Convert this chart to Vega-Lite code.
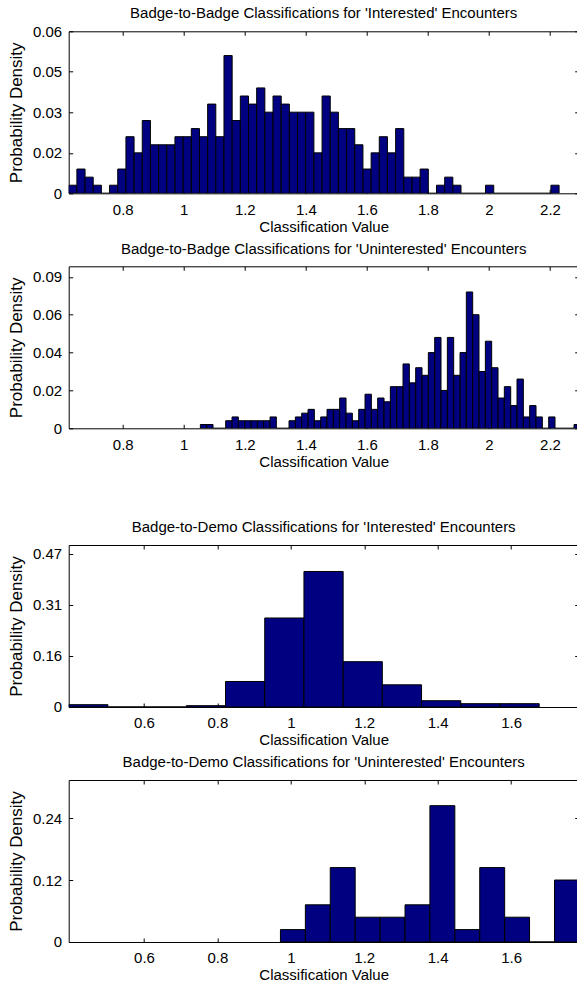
{
  "$schema": "https://vega.github.io/schema/vega-lite/v6.json",
  "background": "white",
  "autosize": {"type": "pad"},
  "padding": {"left": 6.7, "top": 5.3, "right": 0, "bottom": 0},
  "config": {
    "font": "Liberation Sans",
    "view": {"stroke": "black", "strokeWidth": 1},
    "title": {"fontSize": 15, "fontWeight": "normal", "color": "black", "offset": 9, "baseline": "alphabetic", "frame": "group", "anchor": "middle", "font": "Liberation Sans"},
    "axis": {"domain": false, "grid": false, "tickSize": -4, "tickColor": "black", "tickWidth": 1, "labelFontSize": 15, "labelColor": "black", "titleFontSize": 15, "titleFontWeight": "normal", "titleColor": "black", "labelFont": "Liberation Sans", "titleFont": "Liberation Sans", "labelOverlap": false, "labelFlush": false},
    "axisBottom": {"labelPadding": 13, "titlePadding": 2},
    "axisLeft": {"labelPadding": 11, "titlePadding": 7, "titleFontSize": 17},
    "axisTop": {"labels": false, "title": null},
    "axisRight": {"labels": false, "title": null}
  },
  "spacing": 49.7,
  "vconcat": [
    {
      "bounds": "flush",
      "spacing": 73,
      "vconcat": [
        {
          "width": 510, "height": 162,
          "title": {"text": "Badge-to-Badge Classifications for 'Interested' Encounters", "offset": 3.5},
          "data": {"values": [
            {"bin_start": 0.6230, "bin_end": 0.6498, "density": 0.0032},
            {"bin_start": 0.6498, "bin_end": 0.6766, "density": 0.0096},
            {"bin_start": 0.6766, "bin_end": 0.7033, "density": 0.0064},
            {"bin_start": 0.7033, "bin_end": 0.7301, "density": 0.0032},
            {"bin_start": 0.7301, "bin_end": 0.7569, "density": 0},
            {"bin_start": 0.7569, "bin_end": 0.7837, "density": 0.0032},
            {"bin_start": 0.7837, "bin_end": 0.8105, "density": 0.0096},
            {"bin_start": 0.8105, "bin_end": 0.8372, "density": 0.0224},
            {"bin_start": 0.8372, "bin_end": 0.8640, "density": 0.0160},
            {"bin_start": 0.8640, "bin_end": 0.8908, "density": 0.0288},
            {"bin_start": 0.8908, "bin_end": 0.9176, "density": 0.0192},
            {"bin_start": 0.9176, "bin_end": 0.9444, "density": 0.0192},
            {"bin_start": 0.9444, "bin_end": 0.9711, "density": 0.0192},
            {"bin_start": 0.9711, "bin_end": 0.9979, "density": 0.0224},
            {"bin_start": 0.9979, "bin_end": 1.0247, "density": 0.0224},
            {"bin_start": 1.0247, "bin_end": 1.0515, "density": 0.0256},
            {"bin_start": 1.0515, "bin_end": 1.0783, "density": 0.0224},
            {"bin_start": 1.0783, "bin_end": 1.1050, "density": 0.0353},
            {"bin_start": 1.1050, "bin_end": 1.1318, "density": 0.0224},
            {"bin_start": 1.1318, "bin_end": 1.1586, "density": 0.0545},
            {"bin_start": 1.1586, "bin_end": 1.1854, "density": 0.0288},
            {"bin_start": 1.1854, "bin_end": 1.2122, "density": 0.0385},
            {"bin_start": 1.2122, "bin_end": 1.2389, "density": 0.0353},
            {"bin_start": 1.2389, "bin_end": 1.2657, "density": 0.0417},
            {"bin_start": 1.2657, "bin_end": 1.2925, "density": 0.0321},
            {"bin_start": 1.2925, "bin_end": 1.3193, "density": 0.0385},
            {"bin_start": 1.3193, "bin_end": 1.3461, "density": 0.0353},
            {"bin_start": 1.3461, "bin_end": 1.3728, "density": 0.0321},
            {"bin_start": 1.3728, "bin_end": 1.3996, "density": 0.0321},
            {"bin_start": 1.3996, "bin_end": 1.4264, "density": 0.0321},
            {"bin_start": 1.4264, "bin_end": 1.4532, "density": 0.0160},
            {"bin_start": 1.4532, "bin_end": 1.4800, "density": 0.0385},
            {"bin_start": 1.4800, "bin_end": 1.5067, "density": 0.0321},
            {"bin_start": 1.5067, "bin_end": 1.5335, "density": 0.0256},
            {"bin_start": 1.5335, "bin_end": 1.5603, "density": 0.0256},
            {"bin_start": 1.5603, "bin_end": 1.5871, "density": 0.0192},
            {"bin_start": 1.5871, "bin_end": 1.6139, "density": 0.0096},
            {"bin_start": 1.6139, "bin_end": 1.6406, "density": 0.0160},
            {"bin_start": 1.6406, "bin_end": 1.6674, "density": 0.0224},
            {"bin_start": 1.6674, "bin_end": 1.6942, "density": 0.0160},
            {"bin_start": 1.6942, "bin_end": 1.7210, "density": 0.0256},
            {"bin_start": 1.7210, "bin_end": 1.7478, "density": 0.0064},
            {"bin_start": 1.7478, "bin_end": 1.7745, "density": 0.0064},
            {"bin_start": 1.7745, "bin_end": 1.8013, "density": 0.0096},
            {"bin_start": 1.8013, "bin_end": 1.8281, "density": 0},
            {"bin_start": 1.8281, "bin_end": 1.8549, "density": 0.0032},
            {"bin_start": 1.8549, "bin_end": 1.8817, "density": 0.0064},
            {"bin_start": 1.8817, "bin_end": 1.9084, "density": 0.0032},
            {"bin_start": 1.9084, "bin_end": 1.9352, "density": 0},
            {"bin_start": 1.9352, "bin_end": 1.9620, "density": 0},
            {"bin_start": 1.9620, "bin_end": 1.9888, "density": 0},
            {"bin_start": 1.9888, "bin_end": 2.0156, "density": 0.0032},
            {"bin_start": 2.0156, "bin_end": 2.0423, "density": 0},
            {"bin_start": 2.0423, "bin_end": 2.0691, "density": 0},
            {"bin_start": 2.0691, "bin_end": 2.0959, "density": 0},
            {"bin_start": 2.0959, "bin_end": 2.1227, "density": 0},
            {"bin_start": 2.1227, "bin_end": 2.1495, "density": 0},
            {"bin_start": 2.1495, "bin_end": 2.1762, "density": 0},
            {"bin_start": 2.1762, "bin_end": 2.2030, "density": 0},
            {"bin_start": 2.2030, "bin_end": 2.2298, "density": 0.0032}
          ]},
          "layer": [
            {
              "mark": {"type": "bar", "fill": "#000080", "stroke": "black", "strokeWidth": 1, "clip": true},
              "encoding": {
                "x": {"field": "bin_start", "type": "quantitative", "scale": {"domain": [0.623, 2.294], "nice": false, "zero": false}, "axis": {"orient": "bottom", "values": [0.8, 1, 1.2, 1.4, 1.6, 1.8, 2, 2.2], "format": "~g", "title": "Classification Value"}},
                "x2": {"field": "bin_end"},
                "y": {"field": "density", "type": "quantitative", "scale": {"domain": [0, 0.0641], "nice": false}, "axis": {"orient": "left", "values": [0, 0.016, 0.0321, 0.0481, 0.0641], "format": ".2f", "labelExpr": "datum.value == 0 ? '0' : datum.label", "title": "Probability Density"}},
                "y2": {"datum": 0}
              }
            },
            {
              "mark": {"type": "bar", "opacity": 0},
              "encoding": {
                "x": {"field": "bin_start", "type": "quantitative", "axis": {"orient": "top", "values": [0.8, 1, 1.2, 1.4, 1.6, 1.8, 2, 2.2], "labels": false, "title": null}},
                "x2": {"field": "bin_end"},
                "y": {"field": "density", "type": "quantitative", "axis": {"orient": "right", "values": [0, 0.016, 0.0321, 0.0481, 0.0641], "labels": false, "title": null}},
                "y2": {"datum": 0}
              }
            }
          ],
          "resolve": {"axis": {"x": "independent", "y": "independent"}}
        },
        {
          "width": 510, "height": 162,
          "title": {"text": "Badge-to-Badge Classifications for 'Uninterested' Encounters", "offset": 8.5},
          "data": {"values": [
            {"bin_start": 1.0544, "bin_end": 1.0752, "density": 0.00216},
            {"bin_start": 1.0752, "bin_end": 1.0959, "density": 0.00216},
            {"bin_start": 1.0959, "bin_end": 1.1167, "density": 0},
            {"bin_start": 1.1167, "bin_end": 1.1374, "density": 0},
            {"bin_start": 1.1374, "bin_end": 1.1582, "density": 0.00431},
            {"bin_start": 1.1582, "bin_end": 1.1789, "density": 0.00647},
            {"bin_start": 1.1789, "bin_end": 1.1997, "density": 0.00431},
            {"bin_start": 1.1997, "bin_end": 1.2204, "density": 0.00431},
            {"bin_start": 1.2204, "bin_end": 1.2412, "density": 0.00431},
            {"bin_start": 1.2412, "bin_end": 1.2619, "density": 0.00431},
            {"bin_start": 1.2619, "bin_end": 1.2827, "density": 0.00431},
            {"bin_start": 1.2827, "bin_end": 1.3034, "density": 0.00647},
            {"bin_start": 1.3034, "bin_end": 1.3242, "density": 0},
            {"bin_start": 1.3242, "bin_end": 1.3449, "density": 0},
            {"bin_start": 1.3449, "bin_end": 1.3657, "density": 0.00431},
            {"bin_start": 1.3657, "bin_end": 1.3864, "density": 0.00647},
            {"bin_start": 1.3864, "bin_end": 1.4072, "density": 0.00862},
            {"bin_start": 1.4072, "bin_end": 1.4279, "density": 0.01078},
            {"bin_start": 1.4279, "bin_end": 1.4487, "density": 0.00431},
            {"bin_start": 1.4487, "bin_end": 1.4694, "density": 0.00647},
            {"bin_start": 1.4694, "bin_end": 1.4902, "density": 0.01078},
            {"bin_start": 1.4902, "bin_end": 1.5109, "density": 0.01078},
            {"bin_start": 1.5109, "bin_end": 1.5317, "density": 0.01724},
            {"bin_start": 1.5317, "bin_end": 1.5524, "density": 0.00862},
            {"bin_start": 1.5524, "bin_end": 1.5732, "density": 0.00431},
            {"bin_start": 1.5732, "bin_end": 1.5939, "density": 0.01078},
            {"bin_start": 1.5939, "bin_end": 1.6147, "density": 0.01940},
            {"bin_start": 1.6147, "bin_end": 1.6354, "density": 0.01078},
            {"bin_start": 1.6354, "bin_end": 1.6562, "density": 0.01724},
            {"bin_start": 1.6562, "bin_end": 1.6769, "density": 0.01509},
            {"bin_start": 1.6769, "bin_end": 1.6977, "density": 0.02371},
            {"bin_start": 1.6977, "bin_end": 1.7184, "density": 0.02371},
            {"bin_start": 1.7184, "bin_end": 1.7392, "density": 0.03664},
            {"bin_start": 1.7392, "bin_end": 1.7599, "density": 0.02586},
            {"bin_start": 1.7599, "bin_end": 1.7807, "density": 0.03448},
            {"bin_start": 1.7807, "bin_end": 1.8014, "density": 0.03017},
            {"bin_start": 1.8014, "bin_end": 1.8222, "density": 0.04310},
            {"bin_start": 1.8222, "bin_end": 1.8429, "density": 0.05172},
            {"bin_start": 1.8429, "bin_end": 1.8637, "density": 0.02155},
            {"bin_start": 1.8637, "bin_end": 1.8844, "density": 0.05172},
            {"bin_start": 1.8844, "bin_end": 1.9052, "density": 0.03017},
            {"bin_start": 1.9052, "bin_end": 1.9259, "density": 0.04310},
            {"bin_start": 1.9259, "bin_end": 1.9467, "density": 0.07759},
            {"bin_start": 1.9467, "bin_end": 1.9674, "density": 0.06466},
            {"bin_start": 1.9674, "bin_end": 1.9882, "density": 0.03233},
            {"bin_start": 1.9882, "bin_end": 2.0089, "density": 0.04957},
            {"bin_start": 2.0089, "bin_end": 2.0297, "density": 0.03448},
            {"bin_start": 2.0297, "bin_end": 2.0504, "density": 0.01724},
            {"bin_start": 2.0504, "bin_end": 2.0712, "density": 0.02371},
            {"bin_start": 2.0712, "bin_end": 2.0919, "density": 0.01293},
            {"bin_start": 2.0919, "bin_end": 2.1127, "density": 0.02802},
            {"bin_start": 2.1127, "bin_end": 2.1334, "density": 0.00647},
            {"bin_start": 2.1334, "bin_end": 2.1542, "density": 0.01293},
            {"bin_start": 2.1542, "bin_end": 2.1749, "density": 0.00647},
            {"bin_start": 2.1749, "bin_end": 2.1957, "density": 0},
            {"bin_start": 2.1957, "bin_end": 2.2164, "density": 0.00647},
            {"bin_start": 2.2164, "bin_end": 2.2372, "density": 0},
            {"bin_start": 2.2372, "bin_end": 2.2579, "density": 0},
            {"bin_start": 2.2579, "bin_end": 2.2787, "density": 0},
            {"bin_start": 2.2787, "bin_end": 2.2994, "density": 0.00216}
          ]},
          "layer": [
            {
              "mark": {"type": "bar", "fill": "#000080", "stroke": "black", "strokeWidth": 1, "clip": true},
              "encoding": {
                "x": {"field": "bin_start", "type": "quantitative", "scale": {"domain": [0.623, 2.294], "nice": false, "zero": false}, "axis": {"orient": "bottom", "values": [0.8, 1, 1.2, 1.4, 1.6, 1.8, 2, 2.2], "format": "~g", "title": "Classification Value"}},
                "x2": {"field": "bin_end"},
                "y": {"field": "density", "type": "quantitative", "scale": {"domain": [0, 0.0922], "nice": false}, "axis": {"orient": "left", "values": [0, 0.02155, 0.0431, 0.06466, 0.08621], "format": ".2f", "labelExpr": "datum.value == 0 ? '0' : datum.label", "title": "Probability Density"}},
                "y2": {"datum": 0}
              }
            },
            {
              "mark": {"type": "bar", "opacity": 0},
              "encoding": {
                "x": {"field": "bin_start", "type": "quantitative", "axis": {"orient": "top", "values": [0.8, 1, 1.2, 1.4, 1.6, 1.8, 2, 2.2], "labels": false, "title": null}},
                "x2": {"field": "bin_end"},
                "y": {"field": "density", "type": "quantitative", "axis": {"orient": "right", "values": [0, 0.02155, 0.0431, 0.06466, 0.08621], "labels": false, "title": null}},
                "y2": {"datum": 0}
              }
            }
          ],
          "resolve": {"axis": {"x": "independent", "y": "independent"}}
        }
      ]
    },
    {
      "bounds": "flush",
      "spacing": 73,
      "vconcat": [
        {
          "width": 510, "height": 162,
          "title": {"text": "Badge-to-Demo Classifications for 'Interested' Encounters", "offset": 9},
          "data": {"values": [
            {"bin_start": 0.3950, "bin_end": 0.5018, "density": 0.0071},
            {"bin_start": 0.5018, "bin_end": 0.6086, "density": 0},
            {"bin_start": 0.6086, "bin_end": 0.7153, "density": 0},
            {"bin_start": 0.7153, "bin_end": 0.8221, "density": 0.0041},
            {"bin_start": 0.8221, "bin_end": 0.9289, "density": 0.0782},
            {"bin_start": 0.9289, "bin_end": 1.0357, "density": 0.2730},
            {"bin_start": 1.0357, "bin_end": 1.1425, "density": 0.4157},
            {"bin_start": 1.1425, "bin_end": 1.2492, "density": 0.1390},
            {"bin_start": 1.2492, "bin_end": 1.3560, "density": 0.0680},
            {"bin_start": 1.3560, "bin_end": 1.4628, "density": 0.0193},
            {"bin_start": 1.4628, "bin_end": 1.5696, "density": 0.0102},
            {"bin_start": 1.5696, "bin_end": 1.6764, "density": 0.0102}
          ]},
          "layer": [
            {
              "mark": {"type": "bar", "fill": "#000080", "stroke": "black", "strokeWidth": 1, "clip": true},
              "encoding": {
                "x": {"field": "bin_start", "type": "quantitative", "scale": {"domain": [0.395, 1.784], "nice": false, "zero": false}, "axis": {"orient": "bottom", "values": [0.6, 0.8, 1, 1.2, 1.4, 1.6], "format": "~g", "title": "Classification Value"}},
                "x2": {"field": "bin_end"},
                "y": {"field": "density", "type": "quantitative", "scale": {"domain": [0, 0.4969], "nice": false}, "axis": {"orient": "left", "values": [0, 0.1565, 0.313, 0.4695], "format": ".2f", "labelExpr": "datum.value == 0 ? '0' : datum.label", "title": "Probability Density"}},
                "y2": {"datum": 0}
              }
            },
            {
              "mark": {"type": "bar", "opacity": 0},
              "encoding": {
                "x": {"field": "bin_start", "type": "quantitative", "axis": {"orient": "top", "values": [0.6, 0.8, 1, 1.2, 1.4, 1.6], "labels": false, "title": null}},
                "x2": {"field": "bin_end"},
                "y": {"field": "density", "type": "quantitative", "axis": {"orient": "right", "values": [0, 0.1565, 0.313, 0.4695], "labels": false, "title": null}},
                "y2": {"datum": 0}
              }
            }
          ],
          "resolve": {"axis": {"x": "independent", "y": "independent"}}
        },
        {
          "width": 510, "height": 162,
          "title": {"text": "Badge-to-Demo Classifications for 'Uninterested' Encounters", "offset": 9},
          "data": {"values": [
            {"bin_start": 0.9717, "bin_end": 1.0396, "density": 0.0238},
            {"bin_start": 1.0396, "bin_end": 1.1074, "density": 0.0714},
            {"bin_start": 1.1074, "bin_end": 1.1753, "density": 0.1429},
            {"bin_start": 1.1753, "bin_end": 1.2431, "density": 0.0476},
            {"bin_start": 1.2431, "bin_end": 1.3110, "density": 0.0476},
            {"bin_start": 1.3110, "bin_end": 1.3788, "density": 0.0714},
            {"bin_start": 1.3788, "bin_end": 1.4467, "density": 0.2619},
            {"bin_start": 1.4467, "bin_end": 1.5145, "density": 0.0238},
            {"bin_start": 1.5145, "bin_end": 1.5824, "density": 0.1429},
            {"bin_start": 1.5824, "bin_end": 1.6502, "density": 0.0476},
            {"bin_start": 1.6502, "bin_end": 1.7181, "density": 0},
            {"bin_start": 1.7181, "bin_end": 1.7859, "density": 0.1190}
          ]},
          "layer": [
            {
              "mark": {"type": "bar", "fill": "#000080", "stroke": "black", "strokeWidth": 1, "clip": true},
              "encoding": {
                "x": {"field": "bin_start", "type": "quantitative", "scale": {"domain": [0.395, 1.784], "nice": false, "zero": false}, "axis": {"orient": "bottom", "values": [0.6, 0.8, 1, 1.2, 1.4, 1.6], "format": "~g", "title": "Classification Value"}},
                "x2": {"field": "bin_end"},
                "y": {"field": "density", "type": "quantitative", "scale": {"domain": [0, 0.3112], "nice": false}, "axis": {"orient": "left", "values": [0, 0.119, 0.238], "format": ".2f", "labelExpr": "datum.value == 0 ? '0' : datum.label", "title": "Probability Density"}},
                "y2": {"datum": 0}
              }
            },
            {
              "mark": {"type": "bar", "opacity": 0},
              "encoding": {
                "x": {"field": "bin_start", "type": "quantitative", "axis": {"orient": "top", "values": [0.6, 0.8, 1, 1.2, 1.4, 1.6], "labels": false, "title": null}},
                "x2": {"field": "bin_end"},
                "y": {"field": "density", "type": "quantitative", "axis": {"orient": "right", "values": [0, 0.119, 0.238], "labels": false, "title": null}},
                "y2": {"datum": 0}
              }
            }
          ],
          "resolve": {"axis": {"x": "independent", "y": "independent"}}
        }
      ]
    }
  ]
}
